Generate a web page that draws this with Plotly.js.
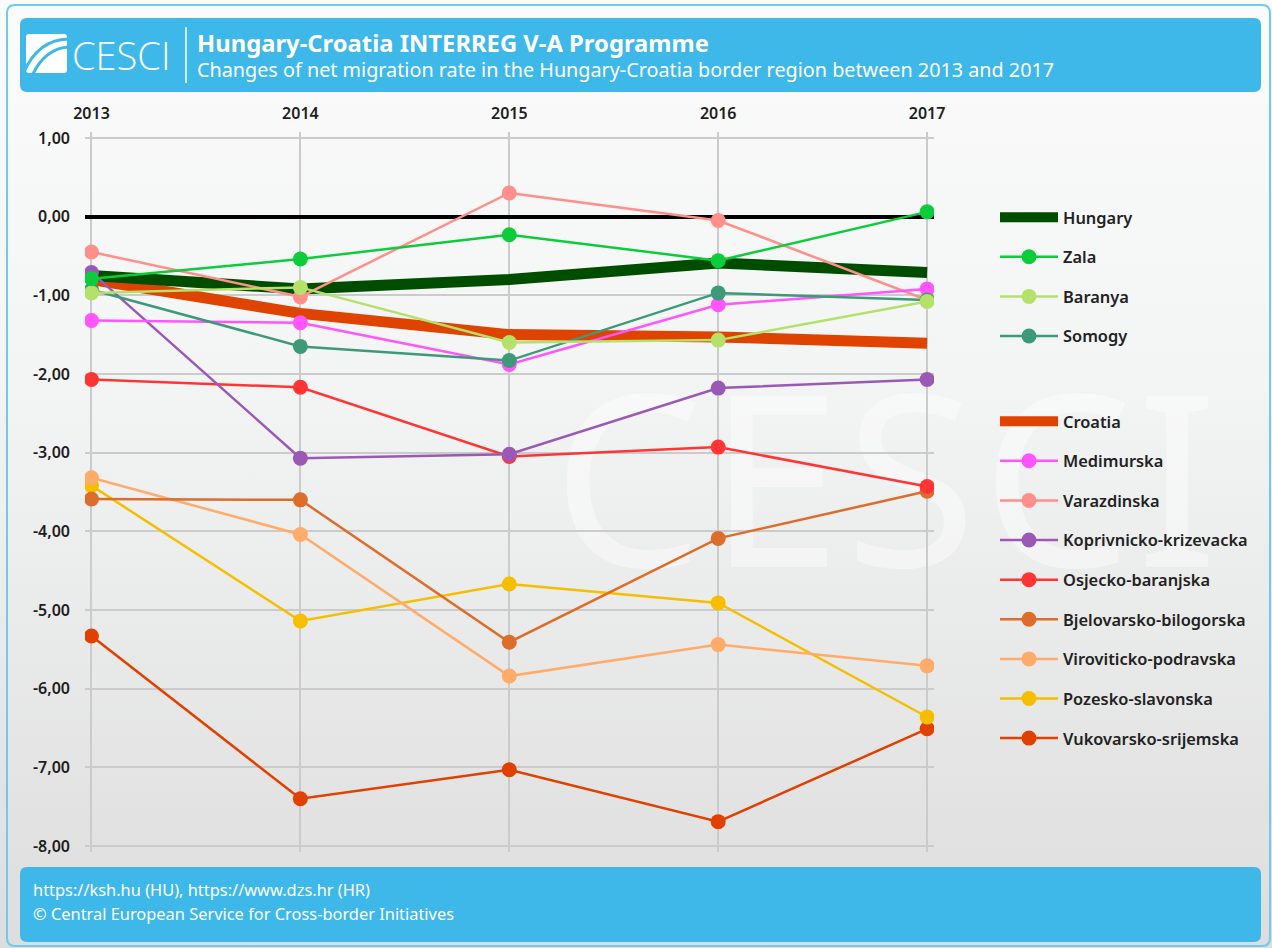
<!DOCTYPE html>
<html>
<head>
<meta charset="utf-8">
<script src="https://cdn.plot.ly/plotly-3.0.1.min.js"></script>
<style>
  html, body { margin: 0; padding: 0; }
  body { width: 1272px; height: 948px; overflow: hidden; position: relative;
         background: linear-gradient(to bottom, #fbfbfb 0%, #f3f4f4 40%, #dcdddc 100%); }
  #wm { position: absolute; left: 552px; top: 354px; font-family: 'Liberation Sans Narrow', 'Noto Sans', sans-serif;
        font-size: 240px; line-height: 1; color: rgba(255,255,255,0.42); letter-spacing: 4px; z-index: 0;
        white-space: nowrap; }
  #chart { position: absolute; left: 0; top: 0; width: 1272px; height: 948px; z-index: 1; }
</style>
</head>
<body>
<div id="wm">CESCI</div>
<div id="chart"></div>
<script>
// ---- data ----
const years = [2013, 2014, 2015, 2016, 2017];
const hungary     = [-0.75, -0.92, -0.80, -0.59, -0.71];
const zala        = [-0.79, -0.54, -0.23, -0.56,  0.06];
const baranya     = [-0.97, -0.90, -1.60, -1.57, -1.08];
const somogy      = [-0.93, -1.65, -1.83, -0.97, -1.06];
const croatia     = [-0.80, -1.23, -1.50, -1.53, -1.61];
const medimurska  = [-1.32, -1.35, -1.88, -1.12, -0.92];
const varazdinska = [-0.45, -1.02,  0.30, -0.05, -1.06];
const koprivnicko = [-0.71, -3.07, -3.02, -2.18, -2.07];
const osjecko     = [-2.07, -2.17, -3.05, -2.93, -3.43];
const bjelovarsko = [-3.59, -3.60, -5.41, -4.09, -3.49];
const viroviticko = [-3.32, -4.04, -5.84, -5.44, -5.71];
const pozesko     = [-3.42, -5.14, -4.67, -4.91, -6.36];
const vukovarsko  = [-5.33, -7.40, -7.03, -7.69, -6.51];

const yTickVals   = [1, 0, -1, -2, -3, -4, -5, -6, -7, -8];
const yTickLabels = ['1,00', '0,00', '-1,00', '-2,00', '-3,00', '-4,00', '-5,00', '-6,00', '-7,00', '-8,00'];

const titleText    = 'Hungary-Croatia INTERREG V-A Programme';
const subtitleText = 'Changes of net migration rate in the Hungary-Croatia border region between 2013 and 2017';
const sourceText   = 'https://ksh.hu (HU), https://www.dzs.hr (HR)';
const copyText     = '© Central European Service for Cross-border Initiatives';

// ---- layout geometry (pixels) ----
const L = 85, R = 934, T = 132, B = 852;
const W = 1272, H = 948;
const px = x => (x - L) / (R - L);
const py = y => (B - y) / (B - T);
function roundRect(x0, y0, x1, y1, r) {
  return 'M' + px(x0 + r) + ',' + py(y0) +
    ' L' + px(x1 - r) + ',' + py(y0) +
    ' Q' + px(x1) + ',' + py(y0) + ' ' + px(x1) + ',' + py(y0 + r) +
    ' L' + px(x1) + ',' + py(y1 - r) +
    ' Q' + px(x1) + ',' + py(y1) + ' ' + px(x1 - r) + ',' + py(y1) +
    ' L' + px(x0 + r) + ',' + py(y1) +
    ' Q' + px(x0) + ',' + py(y1) + ' ' + px(x0) + ',' + py(y1 - r) +
    ' L' + px(x0) + ',' + py(y0 + r) +
    ' Q' + px(x0) + ',' + py(y0) + ' ' + px(x0 + r) + ',' + py(y0) + ' Z';
}

const FONT = 'Noto Sans, Open Sans, sans-serif';

function thin(name, y, color, rank, legend) {
  return { type: 'scatter', mode: 'lines+markers', name: name, x: years, y: y,
    line: { color: color, width: 2.5 }, marker: { color: color, size: 15 },
    legendgroup: name, legendrank: rank, legend: legend, hoverinfo: 'x+y+name' };
}
function thick(name, y, color, rank, legend) {
  return { type: 'scatter', mode: 'lines', name: name, x: years, y: y,
    line: { color: color, width: 11 },
    legendgroup: name, legendrank: rank, legend: legend };
}

// drawing order: thick first, then thin in reverse list order
const traces = [
  thick('Croatia', croatia, '#df4300', 1, 'legend2'),
  thick('Hungary', hungary, '#004d00', 1, 'legend'),
  thin('Vukovarsko-srijemska', vukovarsko, '#e04000', 9, 'legend2'),
  thin('Pozesko-slavonska', pozesko, '#f5bf00', 8, 'legend2'),
  thin('Viroviticko-podravska', viroviticko, '#ffab6a', 7, 'legend2'),
  thin('Bjelovarsko-bilogorska', bjelovarsko, '#dd6d2a', 6, 'legend2'),
  thin('Osjecko-baranjska', osjecko, '#ff3535', 5, 'legend2'),
  thin('Koprivnicko-krizevacka', koprivnicko, '#9b59b6', 4, 'legend2'),
  thin('Varazdinska', varazdinska, '#ff8f8a', 3, 'legend2'),
  thin('Medimurska', medimurska, '#ff55ff', 2, 'legend2'),
  thin('Somogy', somogy, '#3d9a78', 4, 'legend'),
  thin('Baranya', baranya, '#b5e16a', 3, 'legend'),
  thin('Zala', zala, '#0ccc3c', 2, 'legend')
];

const legendCommon = {
  xref: 'container', yref: 'container', xanchor: 'left', yanchor: 'top',
  bgcolor: 'rgba(0,0,0,0)', borderwidth: 0,
  font: { family: FONT, size: 16.4, color: '#222222', weight: 600 },
  tracegroupgap: 15.3, itemwidth: 58, traceorder: 'grouped', itemclick: false
};

const layout = {
  width: W, height: H,
  paper_bgcolor: 'rgba(0,0,0,0)', plot_bgcolor: 'rgba(0,0,0,0)',
  margin: { l: L, r: W - R, t: T, b: H - B, pad: 0 },
  font: { family: FONT, color: '#222222' },
  showlegend: true,
  legend: Object.assign({}, legendCommon, { x: 995 / W, y: 1 - 200 / H }),
  legend2: Object.assign({}, legendCommon, { x: 995 / W, y: 1 - 404 / H }),
  xaxis: {
    type: 'linear', range: [2012.969, 2017.033], side: 'top',
    tickvals: years, ticktext: years.map(String),
    showgrid: true, gridcolor: '#cbcbcb', gridwidth: 1.5,
    zeroline: false, showline: false, ticks: '', ticklabelstandoff: 9,
    tickfont: { family: FONT, size: 16, color: '#1e1e1e', weight: 600 },
    fixedrange: true
  },
  yaxis: {
    range: [-8.076, 1.075], tickvals: yTickVals, ticktext: yTickLabels,
    showgrid: true, gridcolor: '#cbcbcb', gridwidth: 1.5,
    zeroline: true, zerolinecolor: '#000000', zerolinewidth: 3.5,
    showline: false, ticks: '', ticklabelstandoff: 14,
    tickfont: { family: FONT, size: 16, color: '#1e1e1e', weight: 600 },
    fixedrange: true
  },
  shapes: [
    { type: 'path', xref: 'paper', yref: 'paper', path: roundRect(7, 5, 1270, 946, 8),
      line: { color: '#6ccbf0', width: 2 }, fillcolor: 'rgba(0,0,0,0)', layer: 'below' },
    { type: 'path', xref: 'paper', yref: 'paper', path: roundRect(20, 18, 1261, 92, 7),
      line: { width: 0 }, fillcolor: '#3db8e8', layer: 'above' },
    { type: 'path', xref: 'paper', yref: 'paper', path: roundRect(20, 867, 1261, 942, 7),
      line: { width: 0 }, fillcolor: '#3db8e8', layer: 'above' },
    { type: 'path', xref: 'paper', yref: 'paper', path: roundRect(26, 34, 67, 73, 3),
      line: { width: 0 }, fillcolor: '#ffffff', layer: 'above' },
    { type: 'path', xref: 'paper', yref: 'paper',
      path: 'M' + px(24) + ',' + py(72) + ' Q' + px(38) + ',' + py(40) + ' ' + px(68) + ',' + py(39),
      line: { color: '#3db8e8', width: 3 }, layer: 'above' },
    { type: 'path', xref: 'paper', yref: 'paper',
      path: 'M' + px(33) + ',' + py(74) + ' Q' + px(45) + ',' + py(49) + ' ' + px(68) + ',' + py(47),
      line: { color: '#3db8e8', width: 3 }, layer: 'above' },
    { type: 'line', xref: 'paper', yref: 'paper', x0: px(186), x1: px(186), y0: py(27), y1: py(83),
      line: { color: '#ffffff', width: 1.5 }, layer: 'above' }
  ],
  annotations: [
    { xref: 'paper', yref: 'paper', x: px(70), y: py(55), xanchor: 'left', yanchor: 'middle', showarrow: false,
      text: 'CESCI', font: { family: 'Open Sans, Noto Sans, sans-serif', size: 38, color: '#ffffff', weight: 300 } },
    { xref: 'paper', yref: 'paper', x: px(195), y: py(43), xanchor: 'left', yanchor: 'middle', showarrow: false,
      text: titleText, font: { family: FONT, size: 23.8, color: '#ffffff', weight: 700 } },
    { xref: 'paper', yref: 'paper', x: px(195), y: py(69), xanchor: 'left', yanchor: 'middle', showarrow: false,
      text: subtitleText, font: { family: FONT, size: 19.8, color: '#ffffff' } },
    { xref: 'paper', yref: 'paper', x: px(31), y: py(889), xanchor: 'left', yanchor: 'middle', showarrow: false,
      text: sourceText, font: { family: FONT, size: 16.4, color: '#ffffff' } },
    { xref: 'paper', yref: 'paper', x: px(31), y: py(914), xanchor: 'left', yanchor: 'middle', showarrow: false,
      text: copyText, font: { family: FONT, size: 16.4, color: '#ffffff' } }
  ]
};

Plotly.newPlot('chart', traces, layout, { displayModeBar: false, responsive: false });
</script>
</body>
</html>
